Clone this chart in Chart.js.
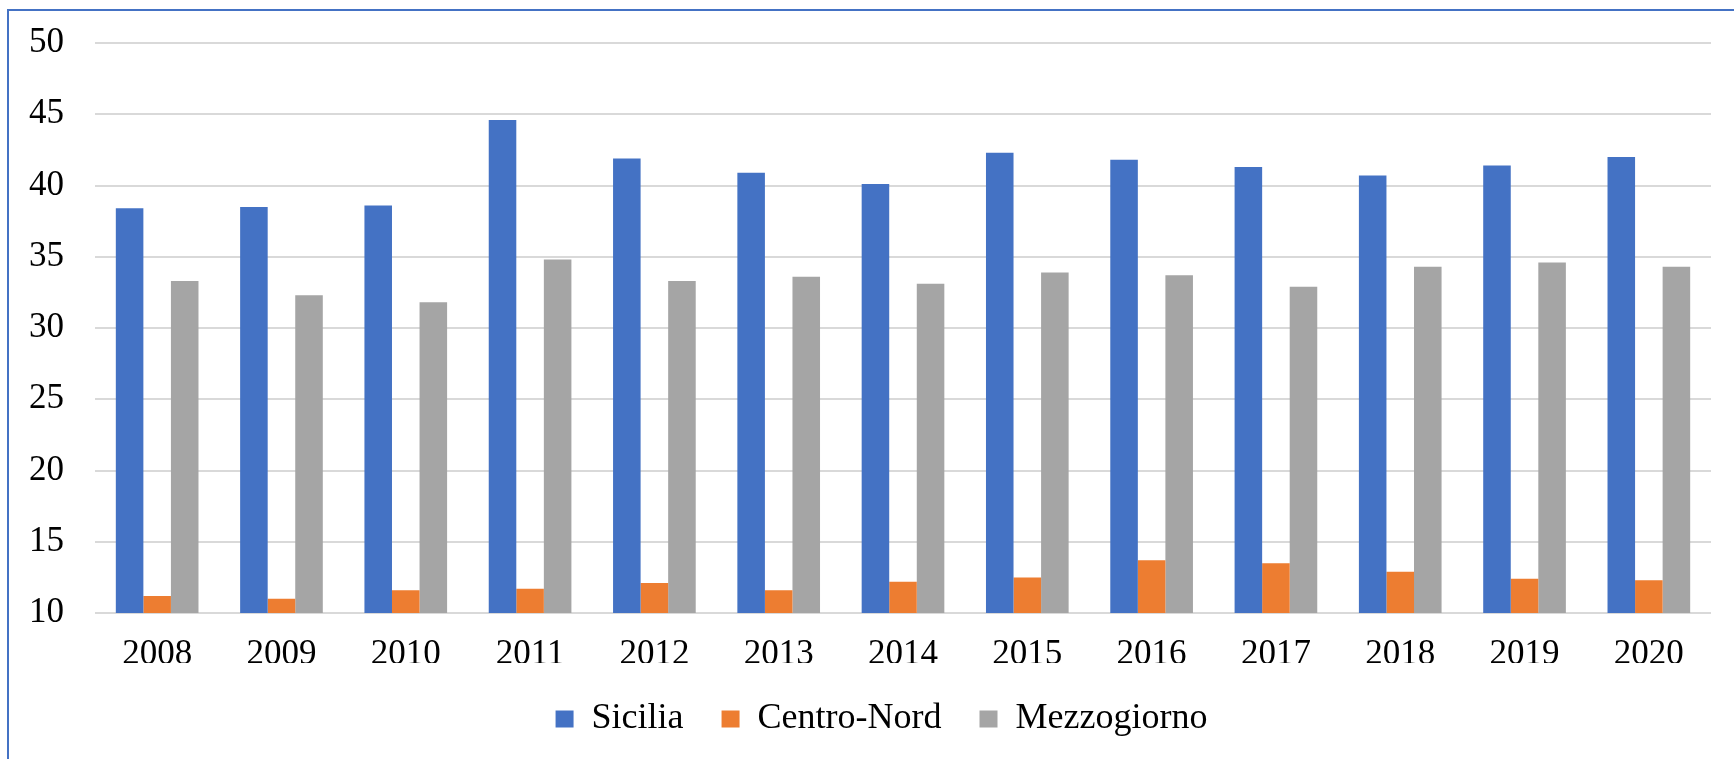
<!DOCTYPE html>
<html>
<head>
<meta charset="utf-8">
<script src="https://cdn.jsdelivr.net/npm/chart.js@4"></script>
<style>
    html, body { margin: 0; padding: 0; background: #fff; }
    #wrap { position: relative; width: 1734px; height: 759px; overflow: hidden; }
    #frame {
        position: absolute; left: 7px; top: 9px; right: -10px; bottom: -10px;
        border-top: 2px solid #4472C4; border-left: 2px solid #4472C4;
    }
    canvas { position: absolute; left: 0; top: 0; }
</style>
</head>
<body>
<div id="wrap">
    <div id="frame"></div>
    <canvas id="grafico" width="1734" height="759"></canvas>
</div>
<script>
// Dati
const anni = ['2008', '2009', '2010', '2011', '2012', '2013', '2014', '2015', '2016', '2017', '2018', '2019', '2020'];
const sicilia = [38.4, 38.5, 38.6, 44.6, 41.9, 40.9, 40.1, 42.3, 41.8, 41.3, 40.7, 41.4, 42.0];
const centroNord = [11.2, 11.0, 11.6, 11.7, 12.1, 11.6, 12.2, 12.5, 13.7, 13.5, 12.9, 12.4, 12.3];
const mezzogiorno = [33.3, 32.3, 31.8, 34.8, 33.3, 33.6, 33.1, 33.9, 33.7, 32.9, 34.3, 34.6, 34.3];
const yMin = 10;
const yMax = 50;
const yStep = 5;

const font = { family: '"Liberation Serif", "Times New Roman", serif', size: 35 };
const fontLegenda = { family: '"Liberation Serif", "Times New Roman", serif', size: 36 };

// sposta un po' la legenda verso destra, come nell'originale
const spostaLegenda = {
    id: 'spostaLegenda',
    afterLayout(chart) {
        chart.legend.left += 26;
        chart.legend.right += 26;
    }
};

new Chart(document.getElementById('grafico'), {
    type: 'bar',
    data: {
        labels: anni,
        datasets: [
            { label: 'Sicilia', data: sicilia, backgroundColor: '#4472C4' },
            { label: 'Centro-Nord', data: centroNord, backgroundColor: '#ED7D31' },
            { label: 'Mezzogiorno', data: mezzogiorno, backgroundColor: '#A5A5A5' }
        ]
    },
    plugins: [spostaLegenda],
    options: {
        responsive: false,
        animation: false,
        layout: { padding: { left: 0, right: 23, top: 43, bottom: 12 } },
        datasets: { bar: { categoryPercentage: 0.665, barPercentage: 1.0 } },
        plugins: {
            tooltip: { enabled: false },
            legend: {
                position: 'bottom',
                labels: {
                    color: '#000',
                    font: fontLegenda,
                    boxWidth: 18,
                    boxHeight: 17,
                    padding: 38
                }
            }
        },
        scales: {
            x: {
                grid: { display: false, drawTicks: false },
                border: { display: false },
                ticks: { color: '#000', font: font, padding: 21, maxRotation: 0 },
                afterFit: scale => { scale.height = 50; }
            },
            y: {
                min: yMin,
                max: yMax,
                grid: { color: '#d9d9d9', lineWidth: 2, drawTicks: false },
                border: { display: false },
                ticks: { stepSize: yStep, color: '#000', font: font, padding: 31 },
                afterFit: scale => {
                    scale.width = 95;
                    scale.paddingTop = 0;
                    scale.paddingBottom = 0;
                }
            }
        }
    }
});
</script>
</body>
</html>
